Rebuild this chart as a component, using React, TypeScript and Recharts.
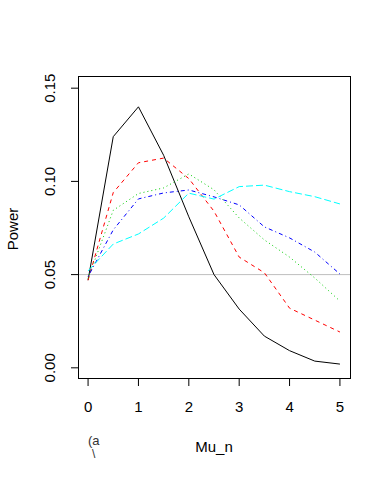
import React from 'react';
import { LineChart, Line, XAxis, YAxis, ReferenceLine } from 'recharts';

// power curves
const mu = [0, 0.5, 1, 1.5, 2, 2.5, 3, 3.5, 4, 4.5, 5];
const powerBlack = [0.047, 0.124, 0.140, 0.114, 0.081, 0.050, 0.0315, 0.017, 0.0092, 0.0036, 0.002];
const powerRed = [0.047, 0.094, 0.110, 0.1125, 0.1015, 0.084, 0.0594, 0.051, 0.032, 0.0256, 0.0192];
const powerGreen = [0.048, 0.0845, 0.0935, 0.0965, 0.104, 0.0955, 0.0804, 0.0686, 0.0594, 0.0482, 0.0358];
const powerBlue = [0.049, 0.074, 0.0906, 0.0938, 0.0954, 0.0917, 0.0874, 0.0756, 0.0697, 0.0621, 0.0503];
const powerCyan = [0.052, 0.0664, 0.0718, 0.0803, 0.0937, 0.0905, 0.0972, 0.098, 0.0945, 0.0918, 0.0879];

const xTicks = [0, 1, 2, 3, 4, 5];
const yTicks = [0, 0.05, 0.1, 0.15];

const data = mu.map((m, i) => ({
    mu: m,
    black: powerBlack[i],
    red: powerRed[i],
    green: powerGreen[i],
    blue: powerBlue[i],
    cyan: powerCyan[i],
}));

const font = '"Liberation Sans", Arial, sans-serif';

const XTick = (props: any) => {
    const { x, y, payload } = props;
    return (
        <text x={x} y={y + 24} textAnchor="middle" fontSize={15} fontFamily={font} fill="#000">
            {payload.value}
        </text>
    );
};

const YTick = (props: any) => {
    const { y, payload } = props;
    return (
        <text x={55} y={y} textAnchor="middle" fontSize={15} fontFamily={font} fill="#000"
            transform={`rotate(-90, 55, ${y})`}>
            {Number(payload.value).toFixed(2)}
        </text>
    );
};

export default function App() {
    return (
        <div style={{ position: 'fixed', left: 0, top: 0, width: 391, height: 477, background: '#fff' }}>
            <LineChart width={391} height={477} data={data} margin={{ top: 77, right: 41, bottom: 0, left: 0 }}>
                <XAxis dataKey="mu" type="number" domain={[-0.2, 5.2]} ticks={xTicks} height={98}
                    axisLine={false} tickSize={7} tickLine={{ stroke: '#000' }} tick={<XTick />} />
                <YAxis type="number" domain={[-0.006, 0.156]} ticks={yTicks} width={78}
                    axisLine={false} tickSize={7} tickLine={{ stroke: '#000' }} tick={<YTick />} />
                <ReferenceLine y={0.05} stroke="#bebebe" strokeWidth={1} />
                <Line dataKey="black" stroke="#000000" strokeWidth={1} dot={false} isAnimationActive={false} />
                <Line dataKey="red" stroke="#ff0000" strokeWidth={1} strokeDasharray="4 4" dot={false} isAnimationActive={false} />
                <Line dataKey="green" stroke="#00cd00" strokeWidth={1} strokeDasharray="1 3" dot={false} isAnimationActive={false} />
                <Line dataKey="blue" stroke="#0000ff" strokeWidth={1} strokeDasharray="1 3 4 3" dot={false} isAnimationActive={false} />
                <Line dataKey="cyan" stroke="#00ffff" strokeWidth={1} strokeDasharray="7 3" dot={false} isAnimationActive={false} />
            </LineChart>
            <svg width={391} height={477} style={{ position: 'absolute', left: 0, top: 0, pointerEvents: 'none' }}>
                <rect x={78.5} y={76.5} width={272} height={302} fill="none" stroke="#000" strokeWidth={1} />
                <text x={18} y={229} textAnchor="middle" fontSize={15} fontFamily={font} fill="#000"
                    transform="rotate(-90, 18, 229)">Power</text>
                <text x={214} y={452} textAnchor="middle" fontSize={15} fontFamily={font} fill="#000">Mu_n</text>
                <text x={88} y={445} fontSize={13} fontFamily={font} fill="#333">(a</text>
                <text x={92} y={458} fontSize={12} fontFamily={font} fill="#333">\</text>
            </svg>
        </div>
    );
}
